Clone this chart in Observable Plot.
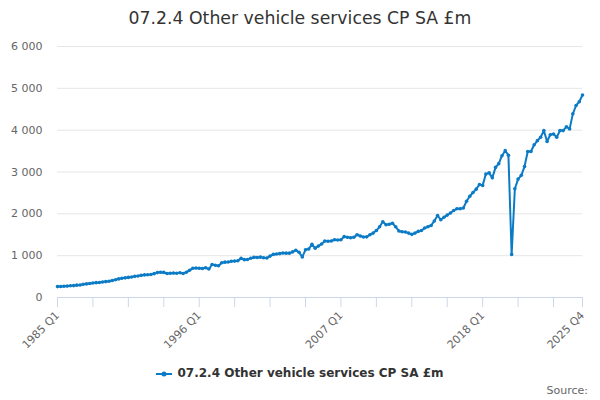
<!DOCTYPE html>
<html>
<head>
<meta charset="utf-8">
<script src="https://cdn.jsdelivr.net/npm/d3@7"></script>
<script src="https://cdn.jsdelivr.net/npm/@observablehq/plot@0.6"></script>
<style>
  html, body { margin: 0; padding: 0; background: #fff; }
  body { width: 600px; height: 400px; position: relative; overflow: hidden; font-family: "DejaVu Sans", sans-serif; }
  #title { position: absolute; top: 0; left: 0; width: 600px; height: 36px; line-height: 36px; text-align: center; font-size: 17.3px; color: #333; }
  #chart { position: absolute; top: 36px; left: 0; }
  #legend { position: absolute; top: 366px; left: 0; width: 600px; text-align: center; font-size: 12px; font-weight: bold; color: #333; }
  #legend svg { vertical-align: middle; margin-right: 5px; }
  #source { position: absolute; top: 384px; right: 12px; font-size: 11px; color: #666; }
</style>
</head>
<body>
<div id="title">07.2.4 Other vehicle services CP SA £m</div>
<div id="chart"></div>
<div id="legend"><svg width="16" height="10"><line x1="0" y1="5" x2="16" y2="5" stroke="#0b7bc6" stroke-width="2"/><circle cx="8" cy="5" r="2.5" fill="#0b7bc6"/></svg>07.2.4 Other vehicle services CP SA £m</div>
<div id="source">Source:</div>
<script>
const startYear = 1985;
const endYear = 2025;
const quarterNames = ["Q1", "Q2", "Q3", "Q4"];
const values = [
  260, 262, 268, 272, 280, 285, 295, 300, 315, 325, 335, 345,
  355, 360, 370, 380, 390, 405, 425, 445, 460, 470, 480, 490,
  505, 515, 530, 540, 545, 550, 570, 595, 605, 600, 575, 580,
  585, 580, 590, 575, 605, 650, 700, 705, 700, 695, 710, 680,
  790, 770, 760, 830, 845, 850, 865, 870, 880, 935, 905, 910,
  940, 960, 955, 965, 950, 945, 990, 1030, 1040, 1050, 1065, 1060,
  1060, 1090, 1130, 1080, 970, 1140, 1160, 1270, 1180, 1230, 1280, 1350,
  1345, 1350, 1380, 1375, 1380, 1455, 1440, 1430, 1440, 1500, 1470, 1445,
  1450, 1500, 1540, 1600, 1690, 1810, 1740, 1750, 1775, 1690, 1590, 1570,
  1565, 1540, 1510, 1540, 1580, 1600, 1660, 1690, 1720, 1830, 1960, 1860,
  1920, 1970, 2020, 2080, 2120, 2120, 2140, 2300, 2420, 2510, 2590, 2700,
  2680, 2950, 2980, 2860, 3110, 3200, 3390, 3510, 3400, 1030, 2600, 2830,
  2920, 3130, 3490, 3490, 3650, 3750, 3830, 3990, 3730, 3890, 3910, 3830,
  3990, 3990, 4080, 4030, 4390, 4590, 4680, 4840
];
const yTicks = [0, 1000, 2000, 3000, 4000, 5000, 6000];
const labelledTicks = ["1985 Q1", "1996 Q1", "2007 Q1", "2018 Q1", "2025 Q4"];

const quarters = [];
for (let y = startYear; y <= endYear; y++) for (const q of quarterNames) quarters.push(`${y} ${q}`);
const data = quarters.map((q, i) => ({quarter: q, value: values[i]}));
const tickQuarters = quarters.filter((q, i) => i % 11 === 0 || i === quarters.length - 1);
const labelSet = new Set(labelledTicks);
const color = "#0b7bc6";

const chart = Plot.plot({
  width: 600,
  height: 320,
  marginTop: 10,
  marginBottom: 59,
  marginLeft: 57,
  marginRight: 18,
  style: {fontFamily: "DejaVu Sans, sans-serif", fontSize: "11px", color: "#666", background: "#fff"},
  x: {type: "point", domain: quarters, padding: 0},
  y: {domain: [0, 6000]},
  marks: [
    Plot.gridY(yTicks, {stroke: "#e6e6e6", strokeOpacity: 1}),
    Plot.axisY(yTicks, {tickSize: 0, tickPadding: 15, tickFormat: d => d3.format(",")(d).replace(/,/g, " "), label: null, fill: "#666"}),
    Plot.ruleY([0], {stroke: "#ccd6eb"}),
    Plot.axisX(tickQuarters, {tickSize: 10, stroke: "#ccd6eb", tickRotate: -45, tickPadding: 6, tickFormat: d => labelSet.has(d) ? d : "", label: null, fill: "#666"}),
    Plot.line(data, {x: "quarter", y: "value", stroke: color, strokeWidth: 2}),
    Plot.dot(data, {x: "quarter", y: "value", r: 1.8, fill: color, stroke: null})
  ]
});
document.getElementById("chart").appendChild(chart);
</script>
</body>
</html>
